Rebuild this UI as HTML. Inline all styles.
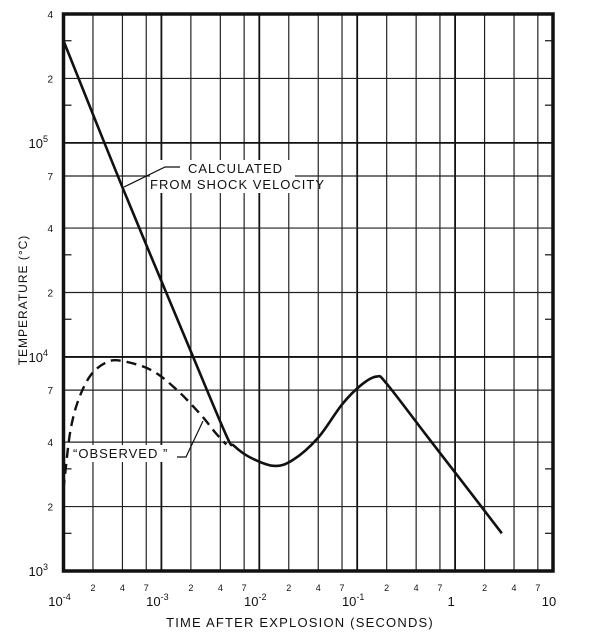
<!DOCTYPE html>
<html><head><meta charset="utf-8"><style>
body{margin:0;background:#fff}
svg{display:block;font-family:"Liberation Sans",sans-serif}
</style></head><body>
<svg id="chart" width="600" height="641" viewBox="0 0 600 641" xmlns="http://www.w3.org/2000/svg">
<g id="grid"></g>
<g id="curves"></g>
<g id="labels"></g>
<g>
<rect x="150" y="160" width="145" height="33" fill="#fff"/>
<text x="188" y="173" font-size="13" letter-spacing="1" fill="#111">CALCULATED</text>
<text x="150" y="189" font-size="13" letter-spacing="1" fill="#111">FROM SHOCK VELOCITY</text>
<polyline points="124,187 165,167 180,167" fill="none" stroke="#111" stroke-width="1.2"/>
<rect x="72" y="445" width="106" height="17" fill="#fff"/>
<text x="73" y="458" font-size="13" letter-spacing="1" fill="#111">“OBSERVED ”</text>
<polyline points="177,457 186,457 203,421" fill="none" stroke="#111" stroke-width="1.2"/>
</g>
<text transform="translate(27,300) rotate(-90)" x="0" y="0" font-size="12" letter-spacing="1" text-anchor="middle" fill="#111">TEMPERATURE (°C)</text>
<text x="300" y="627" font-size="13" letter-spacing="1.2" text-anchor="middle" fill="#111">TIME AFTER EXPLOSION (SECONDS)</text>
<rect x="63.5" y="14" width="489.5" height="557" fill="none" stroke="#111" stroke-width="3.5"/>
</svg>
<script>
const calculatedT=[1e-4,4e-4,2e-3,4.6e-3,5.5e-3,8e-3,1.4e-2,2.2e-2,4e-2,7e-2,0.11,0.158,0.2,0.5,1.2,3.0];
const calculatedV=[3.0e5,6.2e4,1.06e4,4.3e3,3.85e3,3.4e3,3.1e3,3.3e3,4.2e3,6.0e3,7.4e3,8.1e3,7.5e3,4.35e3,2.59e3,1.5e3];
const observedT=[1e-4,1.05e-4,1.18e-4,1.42e-4,1.89e-4,2.7e-4,3.85e-4,7.8e-4,1.4e-3,2.5e-3,3.6e-3,4.6e-3];
const observedV=[2.4e3,2.97e3,4.56e3,6.3e3,8.2e3,9.4e3,9.6e3,8.7e3,7.1e3,5.4e3,4.4e3,3.9e3];
const xDecades=[-4,-3,-2,-1,0,1];
const xDecadeLabels=["10","10","10","10","1","10"];
const xDecadeSup=["-4","-3","-2","-1","",""];
const xMinor=[2,4,7];
const yDecades=[3,4,5];
const yMinorGrid=[2,4,7];
const yMinorTicks=[1.5,3];
const NS="http://www.w3.org/2000/svg";
const L=63.5,R=553,T=14,B=571;
const xs=t=>L+(Math.log10(t)+4)*(R-L)/5;
const ys=v=>B-(Math.log10(v)-3)*(B-T)/(Math.log10(4e5)-3);
function mk(tag,attrs,parent){const e=document.createElementNS(NS,tag);for(const k in attrs)e.setAttribute(k,attrs[k]);parent.appendChild(e);return e;}
const grid=document.getElementById('grid'),lab=document.getElementById('labels'),cur=document.getElementById('curves');
xDecades.forEach((d,i)=>{
  const x=xs(Math.pow(10,d));
  const l=mk('line',{x1:x,x2:x,y1:T,y2:B,stroke:'#111','stroke-width':1.8},grid);
  
  
  const tx=mk('text',{x:x-4,y:606,'font-size':13,'text-anchor':'middle',fill:'#111'},lab);
  
  
  tx.textContent=xDecadeLabels[i];
  if(xDecadeSup[i]){const s=mk('tspan',{dy:-6,'font-size':9},tx);s.textContent=xDecadeSup[i];}
  if(d<1)xMinor.forEach(m=>{
    const xm=xs(m*Math.pow(10,d));
    const g=mk('line',{x1:xm,x2:xm,y1:T,y2:B,stroke:'#222','stroke-width':1.2},grid);
    
    
    const t2=mk('text',{x:xm,y:591,'font-size':9,'text-anchor':'middle',fill:'#111'},lab);
    
    
    t2.textContent=m;
  });
});
yDecades.forEach(d=>{
  const y=ys(Math.pow(10,d));
  const l=mk('line',{x1:L,x2:R,y1:y,y2:y,stroke:'#111','stroke-width':1.8},grid);
  
  
  const tx=mk('text',{x:48,y:y+5,'font-size':13,'text-anchor':'end',fill:'#111'},lab);
  
  
  tx.textContent='10';
  const s=mk('tspan',{dy:-6,'font-size':9},tx);s.textContent=String(d);
  yMinorGrid.forEach(m=>{
    const v=m*Math.pow(10,d);if(v>4e5)return;
    const ym=ys(v);
    if(v<4e5){const g=mk('line',{x1:L,x2:R,y1:ym,y2:ym,stroke:'#222','stroke-width':1.2},grid);
    
    }
    const t2=mk('text',{x:53,y:ym+4,'font-size':10,'text-anchor':'end',fill:'#111'},lab);
    
    
    t2.textContent=m;
  });
  yMinorTicks.forEach(m=>{
    const v=m*Math.pow(10,d);if(v>4e5)return;const ym=ys(v);
    [[L,L+8],[R-8,R]].forEach(p=>{
      const k=mk('line',{x1:p[0],x2:p[1],y1:ym,y2:ym,stroke:'#111','stroke-width':1.2},grid);
      
      
    });
  });
});
function path(ts,vs){
  const p=ts.map((t,i)=>[xs(t),ys(vs[i])]);
  let d='M'+p[0][0]+','+p[0][1];
  for(let i=1;i<p.length;i++){
    const p0=p[Math.max(0,i-2)],p1=p[i-1],p2=p[i],p3=p[Math.min(p.length-1,i+1)];
    const c1=[p1[0]+(p2[0]-p0[0])/6,p1[1]+(p2[1]-p0[1])/6],c2=[p2[0]-(p3[0]-p1[0])/6,p2[1]-(p3[1]-p1[1])/6];
    d+=' C'+c1+' '+c2+' '+p2;
  }
  return d;
}
const c=mk('path',{d:path(calculatedT,calculatedV),fill:'none',stroke:'#111','stroke-width':2.6},cur);


const o=mk('path',{d:path(observedT,observedV),fill:'none',stroke:'#111','stroke-width':2.4,'stroke-dasharray':'10,6'},cur);


</script>
</body></html>
